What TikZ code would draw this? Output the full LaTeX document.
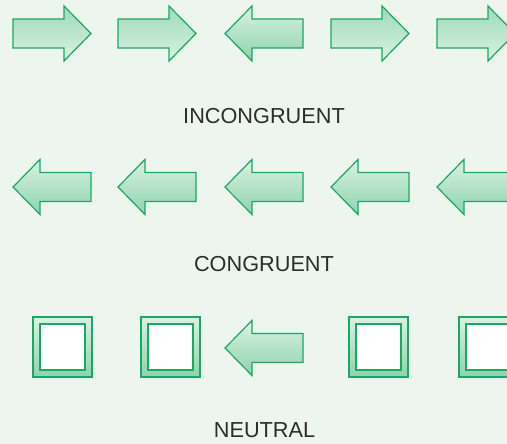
\documentclass[tikz,border=0pt]{standalone}
\usepackage{fontspec}
\setmainfont{Liberation Sans}
\definecolor{bg}{RGB}{236,245,238}
\definecolor{gline}{RGB}{28,168,100}
\definecolor{gdark}{RGB}{140,212,172}
\definecolor{glight}{RGB}{218,241,227}
\definecolor{txt}{RGB}{45,45,45}
\tikzset{
  shp/.style={draw=gline, line width=1.2pt, line join=miter},
  rshade/.style={shp, top color=gdark!85, bottom color=glight},
  lshade/.style={shp, top color=glight, bottom color=gdark},
  lbl/.style={font=\fontsize{21.7}{24}\selectfont, text=txt, inner sep=0pt},
  pics/rarrow/.style={code={
    \draw[rshade] (0,-14.5) -- (51,-14.5) -- (51,-27.5) -- (78,0) -- (51,27.5) -- (51,14.5) -- (0,14.5) -- cycle;
  }},
  pics/larrow/.style={code={
    \draw[lshade] (78,-14.5) -- (27,-14.5) -- (27,-27.5) -- (0,0) -- (27,27.5) -- (27,14.5) -- (78,14.5) -- cycle;
  }},
  pics/sqbox/.style={code={
    \draw[lshade] (0,-30) rectangle (59,30);
    \draw[shp, fill=white] (7,-23) rectangle (52,23);
  }}
}
\begin{document}
\begin{tikzpicture}[x=1pt,y=-1pt]
\fill[bg] (0,0) rectangle (507,444);
\useasboundingbox (0,0) rectangle (507,444);
\clip (0,0) rectangle (507,444);
% row 1
\pic at (13,33.5) {rarrow};
\pic at (118,33.5) {rarrow};
\pic at (225,33.5) {larrow};
\pic at (331,33.5) {rarrow};
\pic at (437,33.5) {rarrow};
\node[lbl] (inc) at (264,116) {INCONGRUENT};
% row 2
\pic at (13,187) {larrow};
\pic at (118,187) {larrow};
\pic at (225,187) {larrow};
\pic at (331,187) {larrow};
\pic at (437,187) {larrow};
\node[lbl] (con) at (264,264) {CONGRUENT};
% row 3
\pic at (33,347) {sqbox};
\pic at (141,347) {sqbox};
\pic at (225,348) {larrow};
\pic at (349,347) {sqbox};
\pic at (459,347) {sqbox};
\node[lbl] (neu) at (264.5,430.5) {NEUTRAL};
\end{tikzpicture}
\end{document}
